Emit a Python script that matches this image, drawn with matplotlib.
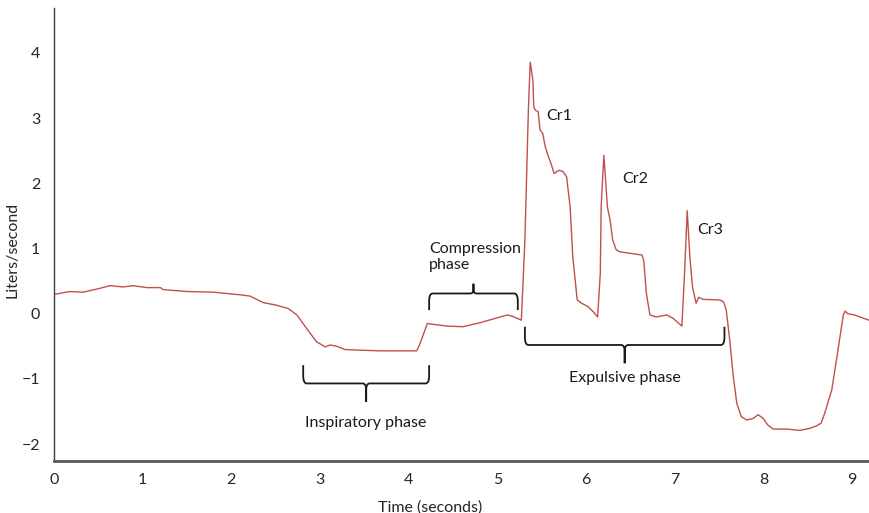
import matplotlib
matplotlib.use("Agg")
import matplotlib.pyplot as plt
from matplotlib.path import Path
from matplotlib.patches import PathPatch
import numpy as np

plt.rcParams['font.family'] = ['Lato', 'DejaVu Sans']

# Flow trace (time in s, flow in L/s)
time_s = [0.02, 0.18, 0.33, 0.52, 0.63, 0.78, 0.89, 1.05, 1.20, 1.23, 1.50, 1.80, 2.02, 2.10,
          2.21, 2.36, 2.51, 2.64, 2.74, 2.85, 2.96, 3.06, 3.11, 3.19, 3.28, 3.45, 3.68, 4.05,
          4.09, 4.13, 4.21,
          4.26, 4.43, 4.61, 4.80, 5.11, 5.17, 5.27, 5.31, 5.35, 5.37, 5.40, 5.41, 5.43, 5.46,
          5.48, 5.51, 5.54, 5.57, 5.61, 5.64, 5.67, 5.70, 5.74, 5.78, 5.82, 5.85, 5.90, 5.95,
          6.02, 6.08, 6.13, 6.16, 6.17, 6.20, 6.22, 6.24, 6.27, 6.30, 6.34, 6.38, 6.53, 6.63,
          6.65, 6.68, 6.72, 6.79, 6.91, 6.98, 7.08, 7.11, 7.14, 7.17, 7.20, 7.24, 7.27, 7.32,
          7.51, 7.55, 7.58, 7.62, 7.66, 7.70, 7.75, 7.81, 7.88, 7.94, 8.00, 8.05, 8.11, 8.26,
          8.41, 8.52, 8.60, 8.65, 8.69, 8.77, 8.84, 8.90, 8.92, 8.95, 9.03, 9.19]
flow_lps = [0.30, 0.34, 0.33, 0.39, 0.43, 0.41, 0.43, 0.40, 0.40, 0.37, 0.34, 0.33, 0.30, 0.29,
            0.27, 0.17, 0.13, 0.08, -0.02, -0.23, -0.43, -0.51, -0.48, -0.50, -0.55, -0.56, -0.57, -0.57,
            -0.57, -0.45, -0.15,
            -0.16, -0.19, -0.20, -0.14, -0.02, -0.04, -0.10, 1.13, 3.17, 3.86, 3.58, 3.17, 3.12, 3.10,
            2.82, 2.77, 2.56, 2.43, 2.28, 2.15, 2.18, 2.20, 2.18, 2.10, 1.64, 0.87, 0.21, 0.16,
            0.11, 0.03, -0.05, 0.62, 1.64, 2.43, 2.05, 1.64, 1.44, 1.13, 0.98, 0.95, 0.92, 0.90,
            0.82, 0.31, -0.02, -0.05, -0.02, -0.07, -0.19, 0.62, 1.58, 0.87, 0.41, 0.16, 0.25, 0.22,
            0.21, 0.18, 0.06, -0.41, -0.97, -1.38, -1.58, -1.63, -1.61, -1.55, -1.61, -1.71, -1.77, -1.77,
            -1.79, -1.76, -1.72, -1.68, -1.53, -1.17, -0.56, -0.02, 0.04, 0.00, -0.02, -0.10]

x_ticks = [0, 1, 2, 3, 4, 5, 6, 7, 8, 9]
y_ticks = [-2, -1, 0, 1, 2, 3, 4]

# Annotations: label, x-span of brace (s)
cough_labels = ["Cr1", "Cr2", "Cr3"]
cough_label_pos = [(5.70, 3.04), (6.55, 2.07), (7.40, 1.28)]

insp_span = (2.81, 4.23)
comp_span = (4.23, 5.23)
expu_span = (5.31, 7.56)

fig = plt.figure(figsize=(8.69, 5.13), dpi=100)
ax = fig.add_axes([54/869, 1 - 461/513, 1 - 54/869, (461 - 8)/513])
ax.plot(time_s, flow_lps, color='#c0504d', lw=1.0)
ax.set_xlim(0, 9.19)
ax.set_ylim(-2.26, 4.69)
ax.set_xticks(x_ticks)
ax.set_yticks(y_ticks)
ax.tick_params(length=0, labelsize=11.5, colors='#262626')
ax.tick_params(axis='x', pad=9)
ax.tick_params(axis='y', pad=10)
for s in ['top', 'right']:
    ax.spines[s].set_visible(False)
ax.spines['left'].set_color('#404040')
ax.spines['left'].set_linewidth(1.0)
ax.spines['bottom'].set_color('#595959')
ax.spines['bottom'].set_linewidth(2.0)

ax.set_xlabel("Time (seconds)", fontsize=11.5, color='#262626')
ax.set_ylabel("Liters/second", fontsize=11.5, color='#262626')
ax.xaxis.set_label_coords(0.461, -0.086)
ax.yaxis.set_label_coords(-0.042, 0.466)


def brace(x0, x1, y_end, y_line, y_tip, r=0.04):
    """curly brace; ends at y_end, horizontal at y_line, tip at y_tip"""
    xm = (x0 + x1) / 2
    sgn = np.sign(y_line - y_end)
    dy = 0.12 * sgn
    verts = [(x0, y_end), (x0, y_line - dy), (x0, y_line), (x0 + r, y_line),
             (xm - r, y_line), (xm, y_line), (xm, y_line + (y_tip - y_line) * 0.35),
             (xm, y_tip),
             (xm, y_tip), (xm, y_line + (y_tip - y_line) * 0.35), (xm, y_line), (xm + r, y_line),
             (x1 - r, y_line), (x1, y_line), (x1, y_line - dy), (x1, y_end)]
    codes = [Path.MOVETO, Path.LINETO, Path.CURVE3, Path.CURVE3,
             Path.LINETO, Path.CURVE3, Path.CURVE3, Path.LINETO,
             Path.MOVETO, Path.LINETO, Path.CURVE3, Path.CURVE3,
             Path.LINETO, Path.CURVE3, Path.CURVE3, Path.LINETO]
    ax.add_patch(PathPatch(Path(verts, codes), fill=False, lw=1.3, color='#1a1a1a'))


brace(insp_span[0], insp_span[1], -0.79, -1.07, -1.35)
brace(comp_span[0], comp_span[1], 0.055, 0.31, 0.46)
brace(expu_span[0], expu_span[1], -0.20, -0.48, -0.76)

txt = dict(fontsize=11.5, color='#1a1a1a')
ax.text(np.mean(insp_span), -1.67, "Inspiratory phase", ha='center', va='center', **txt)
ax.text(comp_span[0], 0.87, "Compression\nphase", ha='left', va='center', linespacing=1.25, **txt)
ax.text(np.mean(expu_span), -0.99, "Expulsive phase", ha='center', va='center', **txt)
for lab, (x, y) in zip(cough_labels, cough_label_pos):
    ax.text(x, y, lab, ha='center', va='center', **txt)

fig.savefig("out.png", dpi=100)
